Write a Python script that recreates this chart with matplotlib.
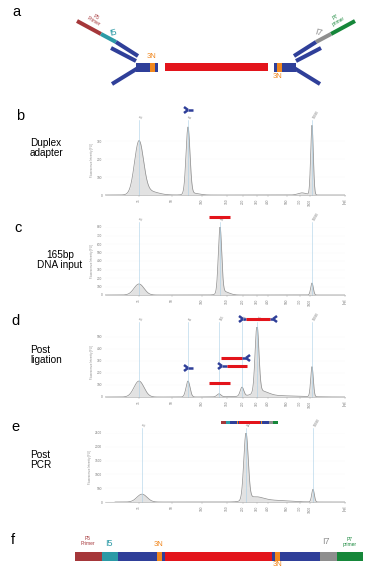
import numpy as np
import matplotlib.pyplot as plt
from matplotlib.patches import Rectangle

plt.rcParams['font.family'] = ['Liberation Sans', 'DejaVu Sans']

W, H = 375, 573

# colours of the library parts
C_P5 = '#a5373a'
C_I5 = '#2b9aa6'
C_AD = '#2f3f99'
C_N = '#f0871e'
C_INS = '#e3141b'
C_I7 = '#8e8e8e'
C_P7 = '#16873a'

# final library (panel f): part lengths along the bar
lib_parts = ['P5', 'i5', 'ad', '3N', 'ad', 'insert', 'ad', '3N', 'ad', 'i7', 'P7']
lib_len = [27, 16, 39, 5, 3, 107, 3, 5, 40, 17, 26]
lib_col = [C_P5, C_I5, C_AD, C_N, C_AD, C_INS, C_AD, C_N, C_AD, C_I7, C_P7]

# electropherogram x axis (migration units) and ladder labels
ladder_x = [34, 67, 97, 122, 138, 152, 163, 182, 195, 205, 240]
ladder_bp = ['35', '50', '100', '150', '200', '300', '400', '500', '700', '1000', '[bp]']

# peaks: centre, height (FU), width
b_pos = [34, 43, 83, 88, 197, 207]
b_hgt = [290, 22, 372, 10, 12, 388]
b_wid = [4.5, 9, 2.0, 6, 4, 1.3]
b_marks = [34, 83, 207]
b_mlbl = ['35', '81', '10380']

c_pos = [34, 115, 119, 207]
c_hgt = [130, 780, 40, 141]
c_wid = [5, 1.7, 5, 1.3]
c_marks = [34, 115, 207]
c_mlbl = ['35', '165', '10380']

d_pos = [34, 83, 114, 137, 152, 156, 165, 207]
d_hgt = [133, 133, 25, 75, 555, 40, 12, 250]
d_wid = [5, 2.0, 2.0, 1.8, 1.9, 7, 25, 1.3]
d_marks = [34, 83, 114, 137, 152, 207]
d_mlbl = ['35', '81', '165', '228', '291', '10380']

e_pos = [37, 141, 150, 168, 208]
e_hgt = [285, 2420, 160, 60, 460]
e_wid = [5, 2.2, 8, 15, 1.3]
e_marks = [37, 141, 208]
e_mlbl = ['35', '321', '10380']

fig = plt.figure(figsize=(W / 100, H / 100), dpi=100)


def trace(top, bottom, pos, hgt, wid, marks, mlbl, ymax, ystep, x0=0):
    ax = fig.add_axes([105 / W, 1 - bottom / H, 240 / W, (bottom - top) / H])
    x = np.linspace(x0, 240, 2000)
    y = np.zeros_like(x)
    for c, h, w in zip(pos, hgt, wid):
        y += h * np.exp(-0.5 * ((x - c) / w) ** 2)
    ax.fill_between(x, y, color='#e2e2e2', lw=0)
    ax.plot(x, y, color='#8c8c8c', lw=0.5)
    for m, l in zip(marks, mlbl):
        ax.axvline(m, ymin=0, ymax=1.07, color='#a9cfe6', lw=0.4, clip_on=False)
        ax.text(m, ymax * 1.08, l, rotation=60, fontsize=2.3, color='#777777',
                ha='left', va='bottom')
    ax.set_xlim(0, 240)
    ax.set_ylim(0, ymax)
    ax.set_xticks(ladder_x)
    ax.set_xticklabels(ladder_bp, rotation=90, fontsize=2.3, color='#777777')
    ax.set_yticks(np.arange(0, ymax + 1, ystep))
    ax.tick_params(axis='x', length=1.5, width=0.3, color='#aaaaaa', pad=1)
    ax.tick_params(axis='y', length=0, labelsize=2.3, labelcolor='#777777', pad=2)
    ax.set_ylabel('Fluorescence Intensity [FU]', fontsize=2, color='#888888', labelpad=2)
    ax.grid(axis='y', color='#eeeeee', lw=0.3, ls=':')
    for s in ['top', 'right', 'left']:
        ax.spines[s].set_visible(False)
    ax.spines['bottom'].set_color('#aaaaaa')
    ax.spines['bottom'].set_linewidth(0.4)
    ax.patch.set_alpha(0)
    return ax


trace(125, 195, b_pos, b_hgt, b_wid, b_marks, b_mlbl, 390, 100)
trace(227, 295, c_pos, c_hgt, c_wid, c_marks, c_mlbl, 800, 100)
trace(327, 397, d_pos, d_hgt, d_wid, d_marks, d_mlbl, 583, 100)
trace(433, 502, e_pos, e_hgt, e_wid, e_marks, e_mlbl, 2500, 500, x0=10)

# overlay in pixel coordinates for schematics and labels
ov = fig.add_axes([0, 0, 1, 1])
ov.set_xlim(0, W)
ov.set_ylim(H, 0)
ov.axis('off')


def seg(p0, p1, c, lw=2.9):
    ov.plot([p0[0], p1[0]], [p0[1], p1[1]], color=c, lw=lw, solid_capstyle='butt')


def box(x0, x1, y0, y1, c):
    ov.add_patch(Rectangle((x0, y0), x1 - x0, y1 - y0, color=c, lw=0))


# panel a: Y adapters ligated to insert
def adapter(s, c_idx, c_prim):
    X = lambda x: 216 + s * (x - 216)
    seg((X(77), 21), (X(101), 34), c_prim)
    seg((X(101), 34), (X(116), 42), c_idx)
    seg((X(116), 42), (X(138), 56), C_AD)
    seg((X(111), 48), (X(136), 61), C_AD)
    seg((X(138), 68), (X(112), 84), C_AD)
    box(min(X(136), X(158)), max(X(136), X(158)), 62.5, 71.5, C_AD)
    box(min(X(150), X(155)), max(X(150), X(155)), 62.5, 71.5, C_N)


adapter(1, C_I5, C_P5)
adapter(-1, C_I7, C_P7)
box(165, 268, 63, 71, C_INS)
ov.text(152, 57, '3N', color=C_N, fontsize=5.5, ha='center', va='center')
ov.text(278, 77, '3N', color=C_N, fontsize=5.5, ha='center', va='center')
ov.text(113, 33, 'I5', color=C_I5, fontsize=6.5, ha='center', va='center', rotation=15)
ov.text(318, 33, 'I7', color=C_I7, fontsize=6.5, ha='center', va='center', rotation=-15)
ov.text(95, 19, 'P5\nPrimer', color=C_P5, fontsize=3.5, ha='center', va='center',
        rotation=-30, linespacing=1.0)
ov.text(337, 19, 'P7\nprimer', color=C_P7, fontsize=3.5, ha='center', va='center',
        rotation=30, linespacing=1.0)


# glyphs above the traces
def yglyph(xt, y, d, stem, lw=1.8):
    seg((xt - d * 4, y - 3), (xt, y), C_AD, lw)
    seg((xt - d * 4, y + 3), (xt, y), C_AD, lw)
    seg((xt, y), (xt + d * stem, y), C_AD, lw)


yglyph(188, 110, 1, 5)
seg((209, 217), (230, 217), C_INS, 2.2)

yglyph(243, 319, 1, 3)
seg((246, 319), (270, 319), C_INS, 2.2)
yglyph(273, 319, -1, 3)

seg((221, 358), (242, 358), C_INS, 2.2)
yglyph(246, 358, -1, 4)

yglyph(222, 366, 1, 5)
seg((227, 366), (247, 366), C_INS, 2.2)

seg((209, 383), (230, 383), C_INS, 2.2)
yglyph(188, 368, 1, 5)

# library bars (panel e glyph and panel f)
def library(x0, y0, y1, scale):
    edges = np.concatenate([[0], np.cumsum(lib_len)]) * scale + x0
    for a, b, c in zip(edges[:-1], edges[1:], lib_col):
        box(a, b, y0, y1, c)


library(221, 420.5, 423.5, 57 / sum(lib_len))
library(75, 552, 561, 1.0)
ov.text(88, 541, 'P5\nPrimer', color=C_P5, fontsize=3.5, ha='center', va='center',
        linespacing=1.0)
ov.text(109, 543, 'I5', color=C_I5, fontsize=6.5, ha='center', va='center')
ov.text(159, 545, '3N', color=C_N, fontsize=5.5, ha='center', va='center')
ov.text(278, 564, '3N', color=C_N, fontsize=5.5, ha='center', va='center')
ov.text(326, 542, 'I7', color=C_I7, fontsize=6.5, ha='center', va='center')
ov.text(350, 542, 'P7\nprimer', color=C_P7, fontsize=3.5, ha='center', va='center',
        linespacing=1.0)

# panel letters and side labels
for lt, x, y in [('a', 16, 12), ('b', 20, 116), ('c', 18, 228),
                 ('d', 15, 321), ('e', 15, 427), ('f', 13, 540)]:
    ov.text(x, y, lt, fontsize=10.5, ha='center', va='center')

ov.text(30, 148, 'Duplex\nadapter', fontsize=7.2, ha='left', va='center', linespacing=1.1)
ov.text(60, 260, '165bp\nDNA input', fontsize=7.2, ha='center', va='center',
        multialignment='center', linespacing=1.1)
ov.text(30, 355, 'Post\nligation', fontsize=7.2, ha='left', va='center', linespacing=1.1)
ov.text(30, 460, 'Post\nPCR', fontsize=7.2, ha='left', va='center', linespacing=1.1)

fig.savefig('out.png', dpi=100)
